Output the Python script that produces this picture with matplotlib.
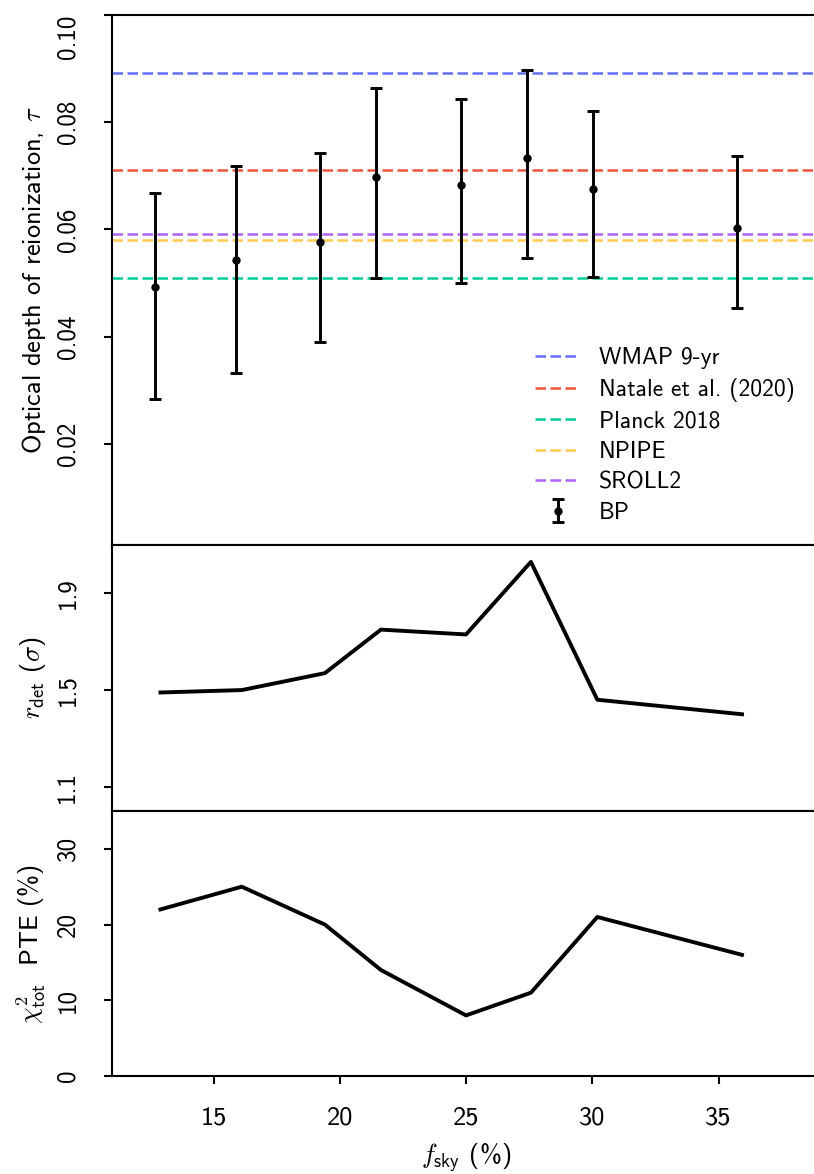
import numpy as np
import matplotlib
matplotlib.use('Agg')
import matplotlib.pyplot as plt

# %% data
fsky_bp = [12.70, 15.90, 19.21, 21.42, 24.80, 27.42, 30.03, 35.73]
tau_bp = [0.0492, 0.0543, 0.0576, 0.0697, 0.0682, 0.0734, 0.0675, 0.0603]
tau_hi = [0.0667, 0.0719, 0.0743, 0.0863, 0.0844, 0.0898, 0.0820, 0.0737]
tau_lo = [0.0283, 0.0332, 0.0390, 0.0510, 0.0499, 0.0547, 0.0512, 0.0453]

fsky_line = [12.90, 16.12, 19.41, 21.63, 25.00, 27.57, 30.20, 35.93]
r_det = [1.49, 1.50, 1.57, 1.75, 1.73, 2.03, 1.46, 1.40]
pte = [22, 25, 20, 14, 8, 11, 21, 16]

ref_names = ['WMAP 9-yr', 'Natale et al. (2020)', 'Planck 2018', 'NPIPE', 'SROLL2']
ref_tau = [0.0892, 0.0710, 0.0510, 0.0581, 0.0591]
ref_color = ['#636EFA', '#EF553B', '#00CC96', '#FECB52', '#AB63FA']

plt.rcParams['font.family'] = ['cmss10', 'DejaVu Sans']
plt.rcParams['mathtext.fontset'] = 'cm'
plt.rcParams['axes.unicode_minus'] = False

fig = plt.figure(figsize=(8.14, 11.74), dpi=100)
left, width = 0.1382, 0.8686
ax1 = fig.add_axes([left, 0.5358, width, 0.4514])
ax2 = fig.add_axes([left, 0.3092, width, 0.2266], sharex=ax1)
ax3 = fig.add_axes([left, 0.0835, width, 0.2257], sharex=ax1)

# %% top panel: tau
for name, t, c in zip(ref_names, ref_tau, ref_color):
    ax1.axhline(t, color=c, ls='--', dashes=(4.2, 1.8), lw=1.8, label=name)
yerr = [np.array(tau_bp) - np.array(tau_lo), np.array(tau_hi) - np.array(tau_bp)]
ax1.errorbar(fsky_bp, tau_bp, yerr=yerr, fmt='o', color='k', ms=5,
             elinewidth=2.1, capsize=4.2, capthick=2.1, label='BP', zorder=5)
ax1.set_ylim(0.0011, 0.10)
ax1.set_yticks([0.02, 0.04, 0.06, 0.08, 0.10])
ax1.set_yticklabels(['0.02', '0.04', '0.06', '0.08', '0.10'])
ax1.set_ylabel(r'Optical depth of reionization, $\tau$', fontsize=19)
ax1.legend(loc='lower left', bbox_to_anchor=(0.598, 0.040), frameon=False,
           fontsize=17, handlelength=1.9, handletextpad=0.8,
           labelspacing=0.36, borderpad=0, borderaxespad=0)

# %% middle panel: r_det
ax2.plot(fsky_line, r_det, color='k', lw=2.8)
ax2.set_ylim(1.0, 2.1)
ax2.set_yticks([1.1, 1.5, 1.9])
ax2.set_ylabel(r'$r_{\mathsf{det}}$ ($\sigma$)', fontsize=19)

# %% bottom panel: chi2 PTE
ax3.plot(fsky_line, pte, color='k', lw=2.8)
ax3.set_ylim(0, 35)
ax3.set_yticks([0, 10, 20, 30])
ax3.set_ylabel(r'$\chi^2_{\mathsf{tot}}$  PTE (%)', fontsize=19)
ax3.set_xlim(11, 39)
ax3.set_xticks([15, 20, 25, 30, 35])
ax3.set_xlabel(r'$f_{\mathsf{sky}}$ (%)', fontsize=19, labelpad=8)

for ax in (ax1, ax2, ax3):
    for s in ax.spines.values():
        s.set_linewidth(1.5)
    ax.tick_params(axis='y', labelsize=18, length=6, width=1.5, pad=18,
                   labelrotation=90)
    for lab in ax.get_yticklabels():
        lab.set_va('center')
    ax.tick_params(axis='x', labelsize=19, length=6, width=1.5, pad=16)
    ax.yaxis.labelpad = 6
for ax in (ax1, ax2):
    ax.tick_params(axis='x', bottom=False, labelbottom=False)
ax1.get_yticklabels()[-1].set_va('top')

fig.align_ylabels([ax1, ax2, ax3])
fig.savefig('out.png', dpi=100)
